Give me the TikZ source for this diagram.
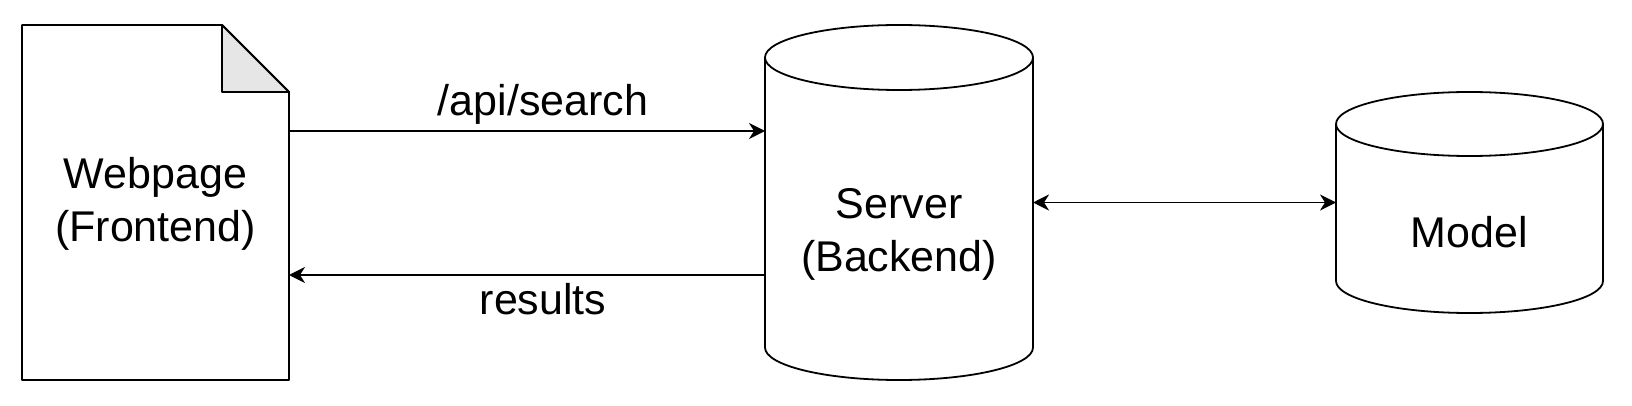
\documentclass[tikz,border=0pt]{standalone}
\usepackage{fontspec}
\setmainfont{Liberation Sans}
\usetikzlibrary{positioning,arrows.meta}
\definecolor{foldgray}{HTML}{E6E6E6}
\tikzset{
	txt/.style={font=\fontsize{21.5}{26.5}\selectfont, align=center, inner sep=0pt},
	box/.style={inner sep=0pt, outer sep=0pt},
	lbl/.style={font=\fontsize{21.5}{26.5}\selectfont, inner sep=0pt}
}
%% Vẽ hình trụ quanh một nút: #1 tên nút, #2 bán trục ngang, #3 bán trục dọc
\newcommand{\drum}[3]{%
	\draw ([yshift=-#3]#1.north west) -- ([yshift=#3]#1.south west)
		arc [start angle=180, end angle=360, x radius=#2, y radius=#3]
		-- ([yshift=-#3]#1.north east)
		arc [start angle=0, end angle=180, x radius=#2, y radius=#3] -- cycle;
	\draw ([yshift=-#3]#1.north west) arc [start angle=180, end angle=360, x radius=#2, y radius=#3];
}
\begin{document}
\begin{tikzpicture}[x=.5pt, y=-.5pt, >={Stealth[length=8pt, width=8pt, inset=2.5pt]}, line join=round, line width=.9pt]
	%% Khung
	\useasboundingbox (0,0) rectangle (1632,406);
	\def\fold{33.5pt}
	%% Các khối
	\node [box, minimum width=133.5pt, minimum height=177.5pt] (web) at (155.5,202.5) {};
	\node [box, minimum width=134pt, minimum height=177.5pt] (srv) at (899,202.5) {};
	\node [box, minimum width=133.5pt, minimum height=110.5pt] (mdl) at (1469.5,202.5) {};
	%% Trang web
	\draw (web.south west) -- (web.north west) -- ([xshift=-\fold]web.north east)
		-- ([yshift=-\fold]web.north east) -- (web.south east) -- cycle;
	\filldraw [fill=foldgray] ([xshift=-\fold]web.north east) -- ([xshift=-\fold, yshift=-\fold]web.north east)
		-- ([yshift=-\fold]web.north east) -- cycle;
	%% Hình trụ
	\drum{srv}{67pt}{16.25pt}
	\drum{mdl}{66.75pt}{16pt}
	%% Chữ
	\node [txt] (webtext) at ([yshift=-.75pt]web.center) {Webpage\\(Frontend)};
	\node [txt] (srvtext) at ([yshift=-15.75pt]srv.center) {Server\\(Backend)};
	\node [txt] (mdltext) at ([yshift=-14.75pt]mdl.center) {Model};
	%% Mũi tên
	\draw [->] ([yshift=35.75pt]web.east) -- ([yshift=35.75pt]web.east -| srv.west)
		node [lbl, midway, above=3pt, xshift=8pt] (req) {/api/search};
	\draw [->] ([yshift=-36.25pt]web.east -| srv.west) -- ([yshift=-36.25pt]web.east)
		node [lbl, midway, below=3.5pt, xshift=8pt] (res) {results};
	\draw [<->] (srv.east) -- (mdl.west);
\end{tikzpicture}
\end{document}
